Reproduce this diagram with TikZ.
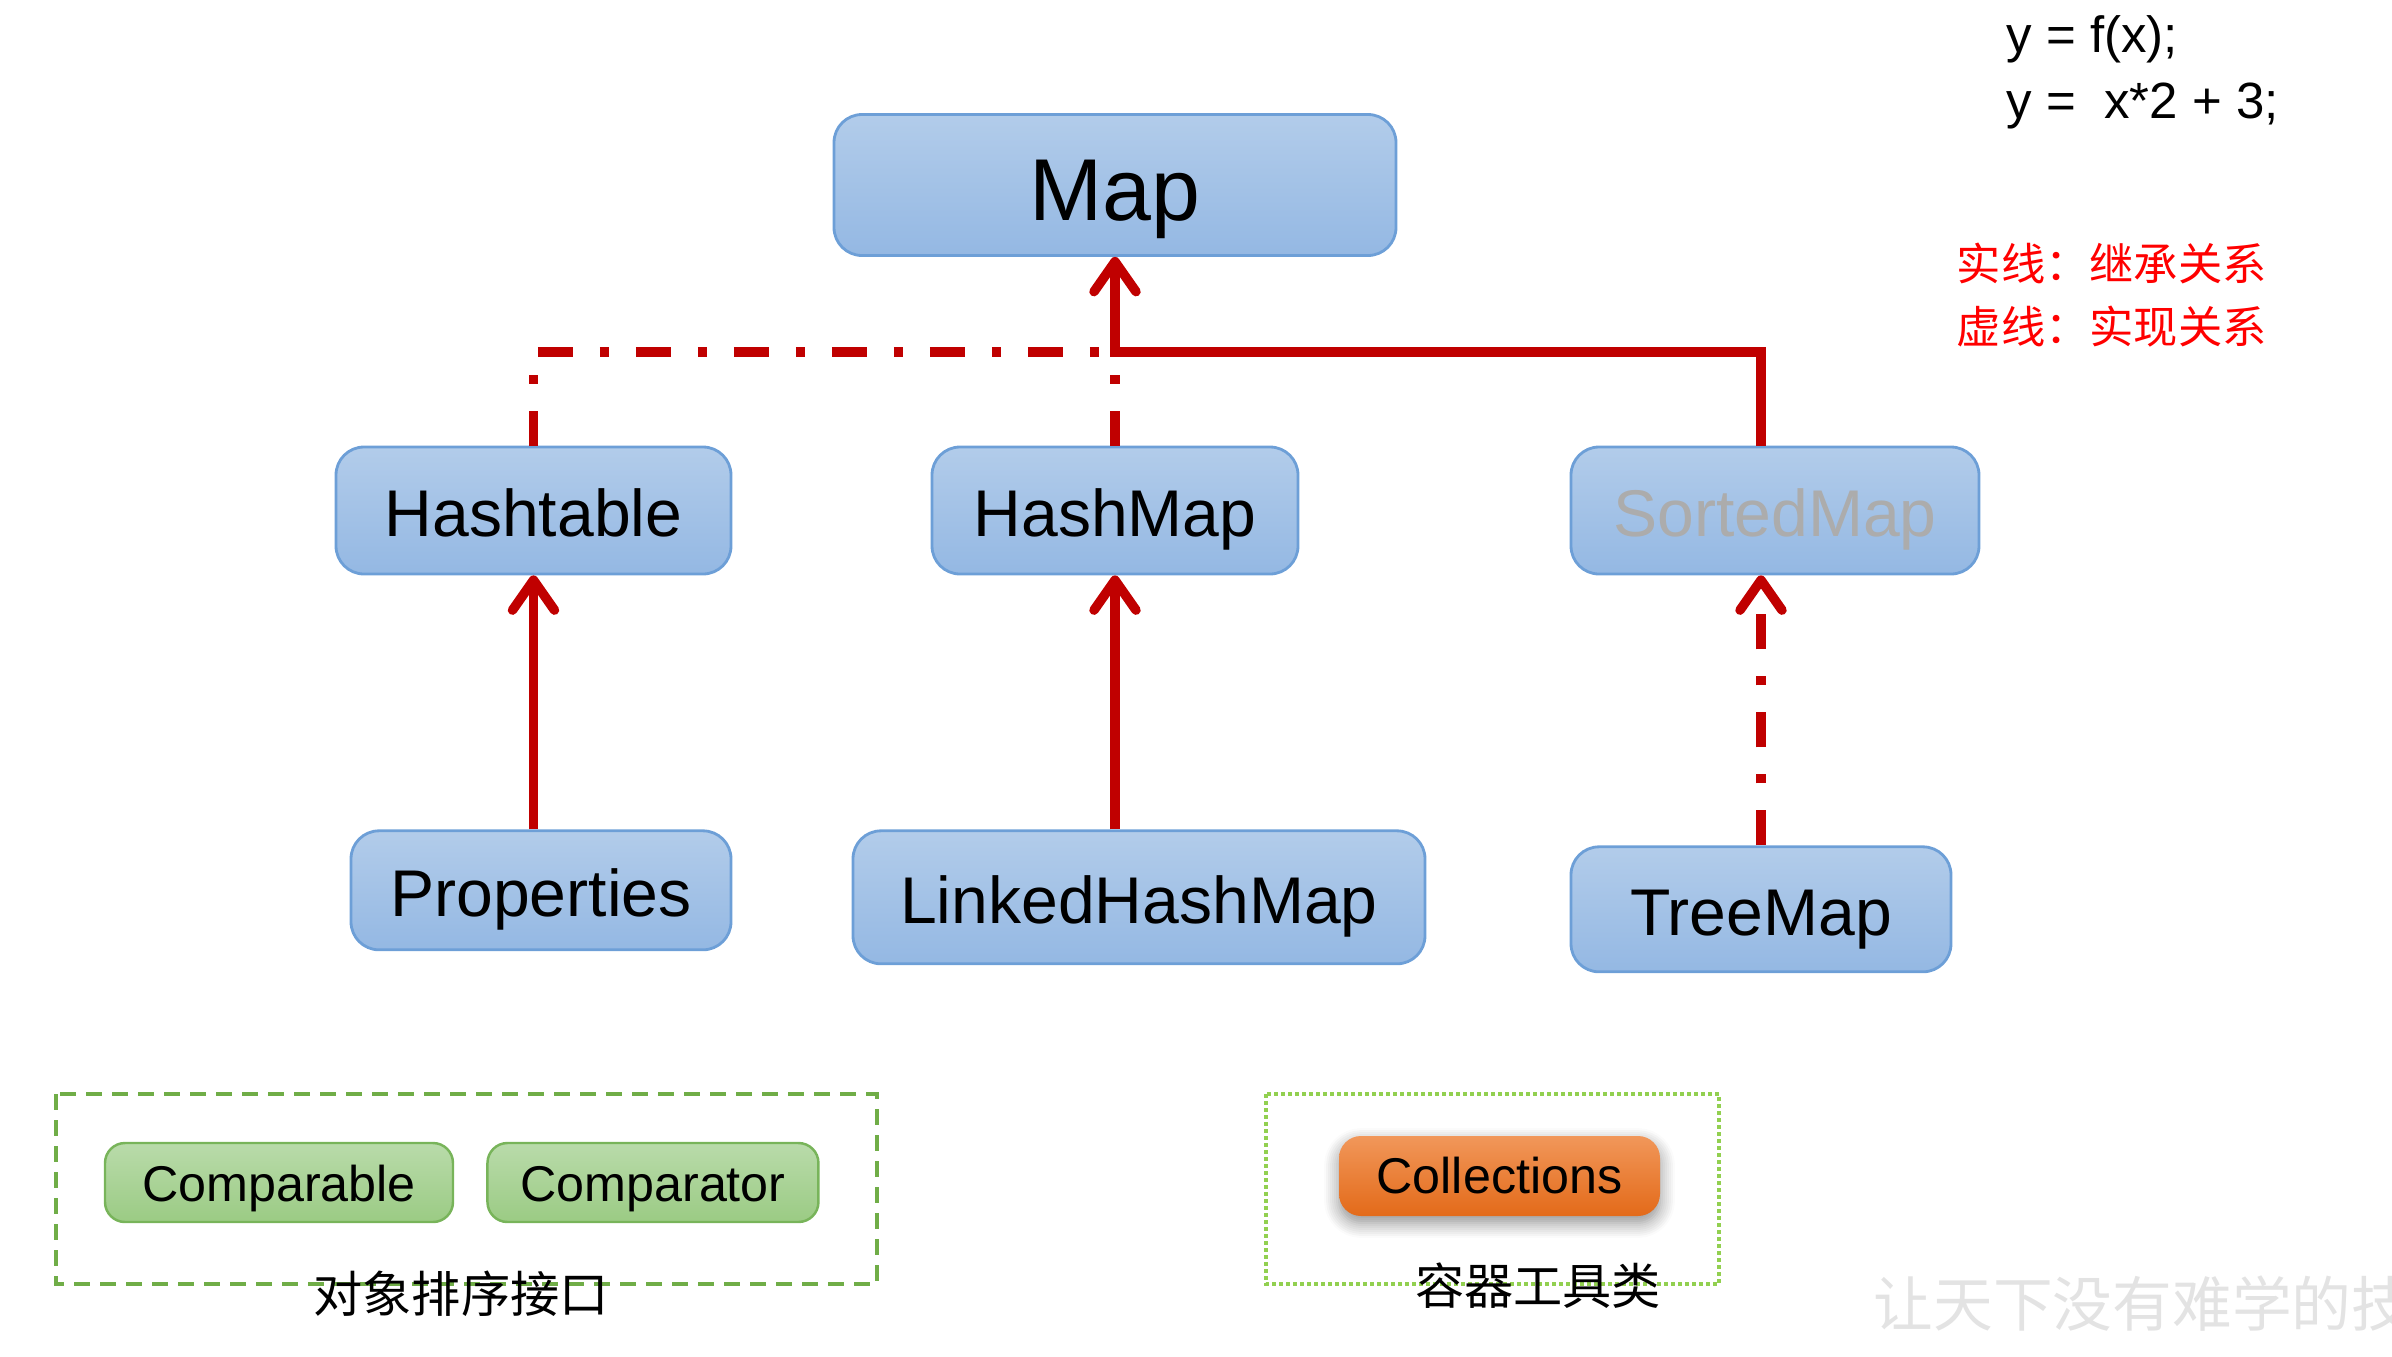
\documentclass[tikz,border=0pt]{standalone}
\usepackage{fontspec}
\setmainfont{Liberation Sans}
\newfontfamily\cjk{Noto Sans CJK SC}
\usepackage{xcolor}
\usetikzlibrary{arrows.meta, positioning, shadows.blur}

\definecolor{clstop}{HTML}{B2CCEA}
\definecolor{clsbottom}{HTML}{94B8E3}
\definecolor{clsborder}{HTML}{6D9FD7}
\definecolor{ifacetop}{HTML}{B9DBAA}
\definecolor{ifacebottom}{HTML}{9BCB84}
\definecolor{ifaceborder}{HTML}{78B45A}
\definecolor{tooltop}{HTML}{F1975A}
\definecolor{toolbottom}{HTML}{E36A19}
\definecolor{relred}{HTML}{C00000}
\definecolor{groupgreen}{HTML}{70AD47}
\definecolor{dotgreen}{HTML}{92D050}

\begin{document}
\begin{tikzpicture}[
    cls/.style={rectangle, draw=clsborder, line width=0.8pt, rounded corners=0.28cm, top color=clstop, bottom color=clsbottom, font=\fontsize{18.8}{22}\selectfont, text height=15pt, text depth=0pt, inner sep=0pt},
    iface/.style={rectangle, draw=ifaceborder, line width=0.7pt, rounded corners=0.2cm, top color=ifacetop, bottom color=ifacebottom, font=\fontsize{14.3}{17}\selectfont, text height=11pt, text depth=0pt, minimum height=0.79cm, inner sep=0pt},
    tool/.style={rectangle, rounded corners=0.22cm, top color=tooltop, bottom color=toolbottom, font=\fontsize{14.3}{17}\selectfont, minimum height=0.8cm, inner sep=0pt, blur shadow={shadow xshift=0pt, shadow yshift=-0.07cm, shadow blur steps=8, shadow blur radius=0.8ex, shadow opacity=45}},
    opentip/.style={-{Straight Barb[round, length=0.3cm, width=0.42cm]}},
    inherit/.style={draw=relred, line width=2.7pt, opentip},
    realize/.style={draw=relred, line width=2.7pt, dash pattern=on 0.35cm off 0.27cm on 0.09cm off 0.27cm},
    group/.style={draw=groupgreen, line width=1.1pt, dash pattern=on 0.16cm off 0.1cm},
    toolgroup/.style={draw=dotgreen, line width=1.2pt, dash pattern=on 0.035cm off 0.035cm},
    caption/.style={font=\cjk\fontsize{14}{16}\selectfont}
]
    \clip (0,0) rectangle (23.92,-13.56);

    % Nodes
    \node[cls, minimum width=5.62cm, minimum height=1.41cm, font=\fontsize{25}{30}\selectfont, text height=20pt] (map) at (11.15,-1.85) {Map};
    \node[cls, minimum width=3.95cm, minimum height=1.27cm] (hashtable) at (5.335,-5.105) {Hashtable};
    \node[cls, minimum width=3.66cm, minimum height=1.27cm] (hashmap) at (11.15,-5.105) {HashMap};
    \node[cls, minimum width=4.08cm, minimum height=1.27cm, text=gray!65] (sortedmap) at (17.75,-5.105) {SortedMap};
    \node[cls, below=2.54cm of hashtable, xshift=0.75mm, minimum width=3.8cm, minimum height=1.19cm] (properties) {Properties};
    \node[cls, below=2.54cm of hashmap, xshift=2.4mm, minimum width=5.72cm, minimum height=1.33cm] (linkedhashmap) {LinkedHashMap};
    \node[cls, below=2.7cm of sortedmap, xshift=-1.4mm, minimum width=3.8cm, minimum height=1.25cm] (treemap) {TreeMap};

    \node[iface, minimum width=3.48cm] (comparable) at (2.79,-11.825) {Comparable};
    \node[iface, right=0.32cm of comparable, minimum width=3.31cm] (comparator) {Comparator};
    \node[tool, minimum width=3.21cm] (collections) at (14.995,-11.76) {Collections};

    % Arrows
    \coordinate (hub) at (11.15,-3.52);
    \draw[inherit] (sortedmap.north -| treemap.north) |- (hub) -- (map.south);
    \draw[realize] (hashtable.north) |- (hub);
    \draw[realize] (hashmap.north) -- (hub);
    \draw[inherit] (hashtable.south |- properties.north) -- (hashtable.south);
    \draw[inherit] (hashmap.south |- linkedhashmap.north) -- (hashmap.south);
    \draw[realize, opentip] (treemap.north) -- (treemap.north |- sortedmap.south);

    % Groups
    \draw[group] (0.56,-10.94) rectangle (8.77,-12.84);
    \node[caption] (sortlabel) at (4.61,-12.94) {对象排序接口};
    \draw[toolgroup] (12.66,-10.94) rectangle (17.19,-12.84);
    \node[caption] (toollabel) at (15.38,-12.86) {容器工具类};

    % Notes
    \node[anchor=west, align=left, inner sep=0pt, font=\fontsize{14.5}{18.8}\selectfont] (formula) at (20.06,-0.72) {y = f(x);\\y =\ \ x*2 + 3;};
    \node[anchor=west, align=left, inner sep=0pt, text=red, font=\cjk\fontsize{12.6}{17.8}\selectfont] (legend) at (19.56,-2.95) {实线：继承关系\\虚线：实现关系};
    \node[anchor=west, inner sep=0pt, text=gray!22, font=\cjk\fontsize{17}{17}\selectfont] (watermark) at (18.73,-13.04) {让天下没有难学的技};
\end{tikzpicture}
\end{document}
